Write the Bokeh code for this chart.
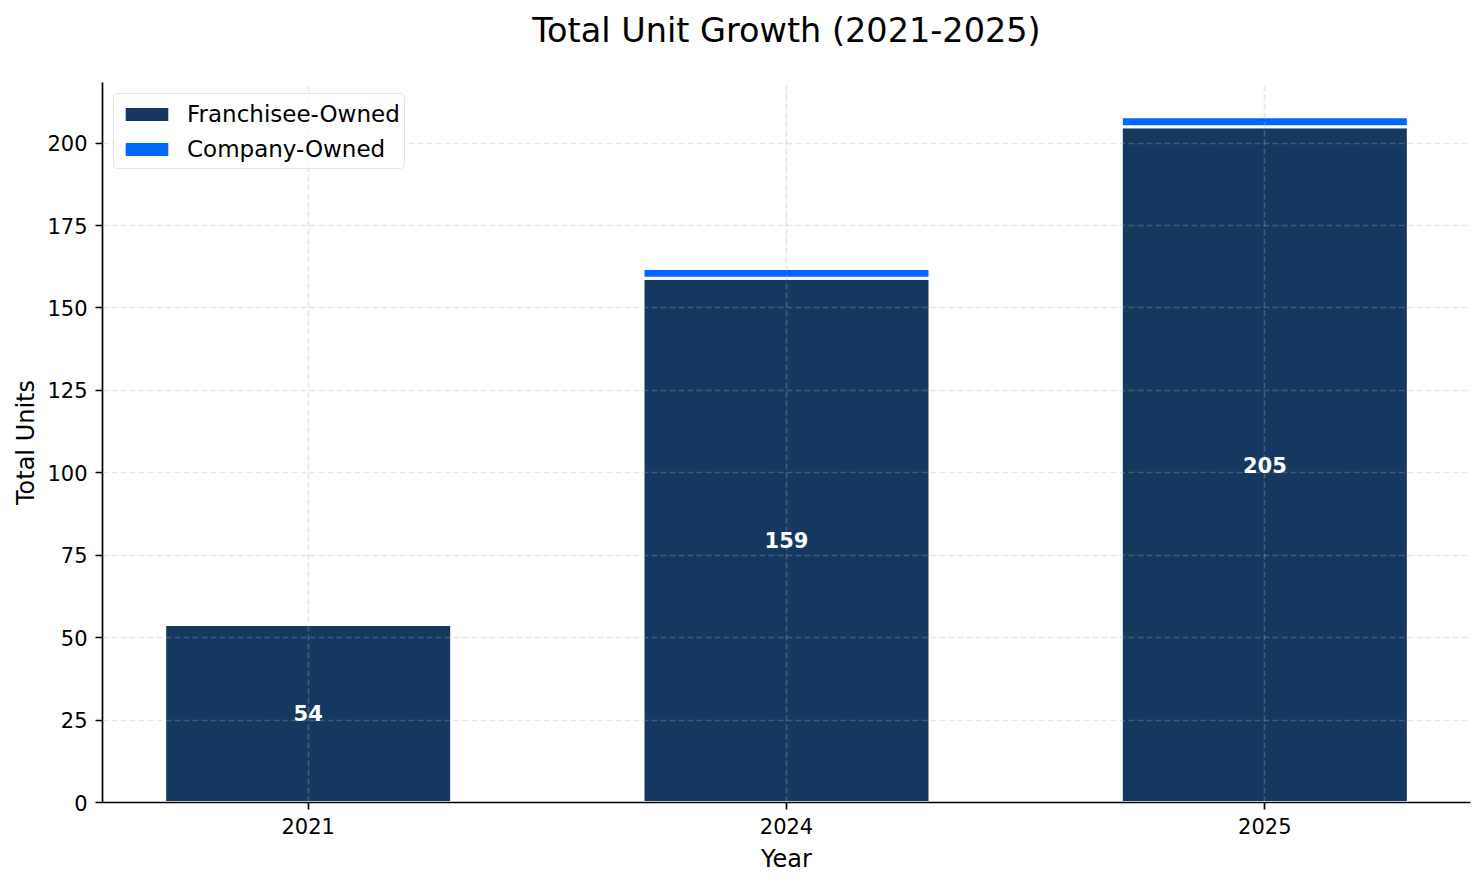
import numpy as np
from bokeh.plotting import figure
from bokeh.models import ColumnDataSource, Range1d, FixedTicker, Legend, LegendItem, Title
from bokeh.core.properties import value
from bokeh.embed import file_html
from bokeh.resources import INLINE

# ---- data ----
title_text = "Total Unit Growth (2021-2025)"
years = ["2021", "2024", "2025"]
franchisee_owned = [54, 159, 205]
company_owned = [0, 3, 3]
y_ticks = [0, 25, 50, 75, 100, 125, 150, 175, 200]

FONT = "DejaVu Sans"
C_FRAN = "#14385F"
C_COMP = "#0066FF"
FRAME_W, FRAME_H = 1368, 720

x = list(range(len(years)))
totals = [f + c for f, c in zip(franchisee_owned, company_owned)]
ymax = max(totals) * 1.05

p = figure(frame_width=FRAME_W, frame_height=FRAME_H,
           output_backend="svg", toolbar_location=None, title_location=None,
           x_range=Range1d(-0.43, len(years) - 1 + 0.43),
           y_range=Range1d(0, ymax),
           min_border_left=102, min_border_right=8,
           min_border_top=82, min_border_bottom=40)

p.outline_line_color = None
p.background_fill_color = "white"
p.border_fill_color = "white"

# spacer panel between frame and title, then the title itself
p.add_layout(Title(text=" ", text_font_size="1px", standoff=23), "above")
p.add_layout(Title(text=title_text, align="center", text_font=FONT,
                   text_font_size="33.5px", text_font_style="normal",
                   text_color="black", standoff=14), "above")

# bars
src_f = ColumnDataSource(dict(
    x=x, top=franchisee_owned,
    mid=[v / 2 for v in franchisee_owned],
    label=[str(v) for v in franchisee_owned]))
rf = p.vbar(x="x", top="top", bottom=0, width=0.6, source=src_f,
            fill_color=C_FRAN, line_color="white", line_width=3)

idx = [i for i, c in enumerate(company_owned) if c > 0]
src_c = ColumnDataSource(dict(
    x=[x[i] for i in idx],
    bottom=[franchisee_owned[i] for i in idx],
    top=[totals[i] for i in idx]))
rc = p.vbar(x="x", top="top", bottom="bottom", width=0.6, source=src_c,
            fill_color=C_COMP, line_color="white", line_width=3)

# labels
p.text(x="x", y="mid", text="label", source=src_f,
       text_color="white", text_font=value(FONT), text_font_style="bold",
       text_font_size="21px", text_align="center", text_baseline="middle",
       level="annotation")

# axes
p.xaxis.ticker = FixedTicker(ticks=x)
p.xaxis.major_label_overrides = {i: y for i, y in zip(x, years)}
p.yaxis.ticker = FixedTicker(ticks=y_ticks)
p.xaxis.axis_label = "Year"
p.yaxis.axis_label = "Total Units"
for ax in (p.xaxis, p.yaxis):
    ax.axis_label_text_font = FONT
    ax.axis_label_text_font_size = "24px"
    ax.axis_label_text_font_style = "normal"
    ax.axis_label_text_color = "black"
    ax.major_label_text_font = FONT
    ax.major_label_text_font_size = "21px"
    ax.major_label_text_color = "black"
    ax.axis_line_color = "black"
    ax.axis_line_width = 1.7
    ax.major_tick_line_color = "black"
    ax.major_tick_line_width = 1.7
    ax.major_tick_out = 7
    ax.major_tick_in = 0
    ax.minor_tick_line_color = None
    ax.major_label_standoff = 8
p.xaxis.axis_label_standoff = 8
p.yaxis.axis_label_standoff = 4

# grid (drawn above bars like matplotlib)
p.xgrid.ticker = FixedTicker(ticks=x)
p.ygrid.ticker = FixedTicker(ticks=y_ticks)
for g in (p.xgrid, p.ygrid):
    g.grid_line_color = "#b0b0b0"
    g.grid_line_alpha = 0.3
    g.grid_line_dash = "6 3"
    g.grid_line_width = 1.7
    g.level = "guide"

# legend
legend = Legend(items=[LegendItem(label="Franchisee-Owned", renderers=[rf]),
                       LegendItem(label="Company-Owned", renderers=[rc])],
                location="top_left")
legend.margin = 11
legend.padding = 4
legend.spacing = 4
legend.glyph_width = 57
legend.glyph_height = 20
legend.label_height = 31
legend.label_standoff = 12
legend.label_text_font = FONT
legend.label_text_font_size = "23px"
legend.label_text_color = "black"
legend.border_line_color = "#cccccc"
legend.border_line_width = 1.5
legend.border_radius = 5
legend.background_fill_alpha = 0.8
p.add_layout(legend)

open("out.html", "w").write(file_html(p, INLINE))
